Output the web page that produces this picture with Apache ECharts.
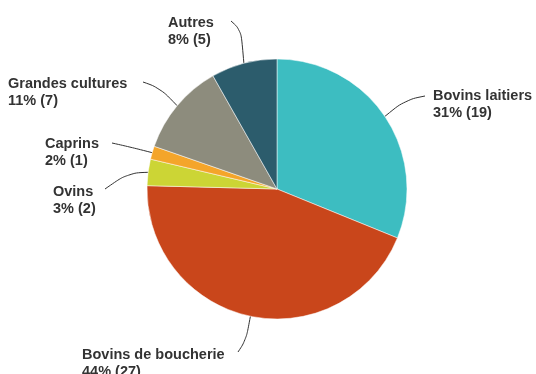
<!DOCTYPE html>
<html>
<head>
<meta charset="utf-8">
<script src="https://cdn.jsdelivr.net/npm/echarts@6/dist/echarts.min.js"></script>
<style>
  html, body { margin: 0; padding: 0; background: #fff; }
  #chart { width: 536px; height: 374px; }
</style>
</head>
<body>
<div id="chart"></div>
<script>
// Farm types, clockwise from 12 o'clock
const categories = ['Bovins laitiers', 'Bovins de boucherie', 'Ovins', 'Caprins', 'Grandes cultures', 'Autres'];
const counts = [19, 27, 2, 1, 7, 5];
const colors = ['#3dbdc1', '#c9461b', '#ccd535', '#f4a52a', '#8d8c7d', '#2c5c6c'];

const total = counts.reduce((a, b) => a + b, 0);

// Label placement: text box top-left, bend of the leader line, end of the leader line
const labelSpots = [
  { x: 433, y: 87,  knee: [405, 100], end: [425, 96] },
  { x: 82,  y: 346, knee: [246, 340], end: [238, 352] },
  { x: 53,  y: 183, knee: [128, 173], end: [105, 189] },
  { x: 45,  y: 135, knee: [130, 147], end: [112, 143] },
  { x: 8,   y: 75,  knee: [160, 88],  end: [143, 82] },
  { x: 168, y: 14,  knee: [241, 30],  end: [231, 21] }
];

const chart = echarts.init(document.getElementById('chart'), null, { renderer: 'canvas' });

chart.setOption({
  animation: false,
  backgroundColor: '#fff',
  series: [{
    type: 'pie',
    center: [277, 189],
    radius: 130,
    startAngle: 90,
    clockwise: true,
    color: colors,
    avoidLabelOverlap: false,
    itemStyle: { borderColor: '#ffffff', borderWidth: 0.5 },
    data: categories.map((name, i) => ({ name, value: counts[i] })),
    label: {
      show: true,
      position: 'outside',
      overflow: 'none',
      edgeDistance: 0,
      fontFamily: 'Liberation Sans, Arial, sans-serif',
      fontSize: 14.5,
      fontWeight: 'bold',
      color: '#333333',
      lineHeight: 17,
      align: 'left',
      formatter: p => p.name + '\n' + Math.round(p.value / total * 100) + '% (' + p.value + ')'
    },
    labelLine: {
      show: true,
      smooth: 0.4,
      lineStyle: { color: '#333333', width: 1 }
    },
    labelLayout: function (params) {
      const s = labelSpots[params.dataIndex];
      const start = params.labelLinePoints ? params.labelLinePoints[0] : s.knee;
      return {
        x: s.x,
        y: s.y,
        align: 'left',
        verticalAlign: 'top',
        labelLinePoints: [start, s.knee, s.end]
      };
    }
  }]
});
</script>
</body>
</html>
